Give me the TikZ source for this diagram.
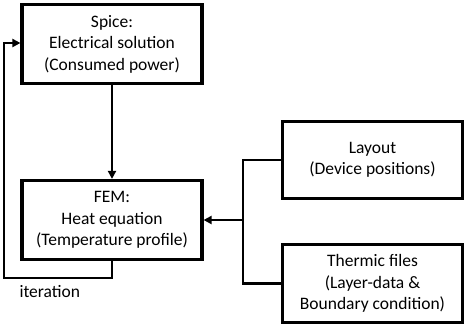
\documentclass[tikz,border=0pt]{standalone}
\usepackage{fontspec}
\setmainfont{Carlito}
\usetikzlibrary{arrows.meta}
\begin{document}
\begin{tikzpicture}[x=1pt,y=-1pt,
  box/.style={draw,line width=3.2pt,align=center,font=\fontsize{17.5}{21.5}\selectfont,inner sep=0pt},
  conn/.style={line width=2.6pt},
  arr/.style={conn,-{Triangle[length=8pt,width=8pt]}}]
\useasboundingbox (0,0) rectangle (464,325);
\node[box,minimum width=180pt,minimum height=79pt] (spice) at (112,44) {Spice:\\Electrical solution\\(Consumed power)};
\node[box,minimum width=180pt,minimum height=79pt] (fem) at (112,220) {FEM:\\Heat equation\\(Temperature profile)};
\node[box,minimum width=180pt,minimum height=77pt] (layout) at (372.5,160) {Layout\\(Device positions)};
\node[box,minimum width=180pt,minimum height=78pt] (thermic) at (372.5,283.5) {Thermic files\\(Layer-data \&\\Boundary condition)};
\coordinate (j) at (243,220);
\coordinate (lb) at (112,278);
\coordinate (ll) at (4,278);
\coordinate (lt) at (4,43);
\draw[arr] (spice.south) -- (fem.north);
\draw[conn] (layout.west) -| (j) |- (thermic.west);
\draw[arr] (j) -- (fem.east);
\draw[arr] (fem.south) -- (lb) -- (ll) -- (lt) -- (spice.west |- lt);
\node[font=\fontsize{17.5}{20}\selectfont,anchor=west] (it) at (16,292) {iteration};
\end{tikzpicture}
\end{document}
